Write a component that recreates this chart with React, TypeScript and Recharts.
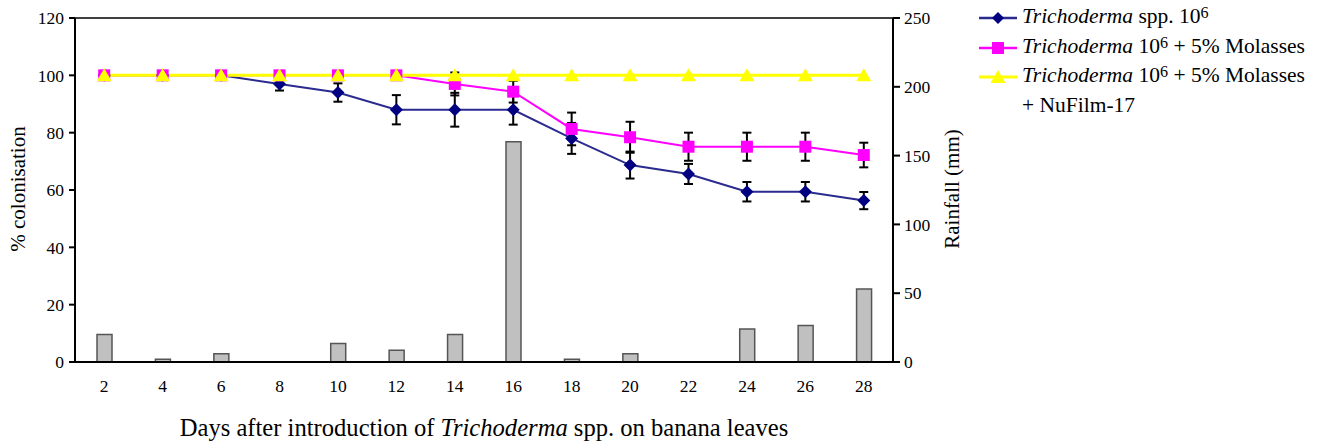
import React from 'react';
import { ComposedChart, Bar, Line, XAxis, YAxis, ErrorBar, ReferenceLine, Legend } from 'recharts';

const serif = "'Liberation Serif', 'Times New Roman', serif";

// days after introduction
const days = ['2', '4', '6', '8', '10', '12', '14', '16', '18', '20', '22', '24', '26', '28'];
// rainfall in mm (right axis)
const rainfall = [20, 2, 6, 0, 13.5, 8.5, 20, 160, 2, 6, 0, 24, 26.5, 53];
// % colonisation
const trichoderma = [100, 100, 100, 97, 94, 88, 88, 88, 78, 68.7, 65.6, 59.4, 59.4, 56.3];
const trichodermaErr = [0, 0, 0, 2.3, 3.2, 5.1, 5.9, 5.2, 5.4, 4.7, 3.5, 3.4, 3.4, 3];
const molasses = [100, 100, 100, 100, 100, 100, 97, 94.3, 81.3, 78.4, 75.1, 75.1, 75.1, 72.2];
const molassesErr = [0, 0, 0, 0, 0, 0, 4, 3.8, 5.7, 5.4, 4.9, 4.9, 4.9, 4.3];
const nufilm = [100, 100, 100, 100, 100, 100, 100, 100, 100, 100, 100, 100, 100, 100];

const colonisationTicks = [0, 20, 40, 60, 80, 100, 120];
const rainfallTicks = [0, 50, 100, 150, 200, 250];

const data = days.map((day, i) => ({
  day,
  rain: rainfall[i],
  t: trichoderma[i],
  tErr: trichodermaErr[i],
  m: molasses[i],
  mErr: molassesErr[i],
  n: nufilm[i],
}));

const BLUE_LINE = '#2a2a8f';
const NAVY = '#000080';
const PINK = '#ff00ff';
const YELLOW = '#ffff00';

const diamondPath = (cx: number, cy: number, r: number) =>
  `${cx},${cy - r} ${cx + r},${cy} ${cx},${cy + r} ${cx - r},${cy}`;
const trianglePath = (cx: number, cy: number) =>
  `${cx},${cy - 7} ${cx + 7.5},${cy + 6} ${cx - 7.5},${cy + 6}`;

const DiamondDot = (p: any) => {
  if (p.cx == null || p.cy == null) return <g key={`dd-${p.index}`} />;
  return <polygon key={`dd-${p.index}`} points={diamondPath(p.cx, p.cy, 6.5)} fill={NAVY} />;
};
const SquareDot = (p: any) => {
  if (p.cx == null || p.cy == null) return <g key={`sd-${p.index}`} />;
  return <rect key={`sd-${p.index}`} x={p.cx - 6} y={p.cy - 6} width={12} height={12} fill={PINK} />;
};
const TriangleDot = (p: any) => {
  if (p.cx == null || p.cy == null) return <g key={`td-${p.index}`} />;
  return <polygon key={`td-${p.index}`} points={trianglePath(p.cx, p.cy)} fill={YELLOW} />;
};

// rotated axis titles, centred on the plot height
const SideTitle = ({ x, text }: { x: number; text: string }) => {
  const cy = 189;
  return (
    <text x={x} y={cy} transform={`rotate(-90 ${x} ${cy})`} textAnchor="middle" dominantBaseline="central"
      style={{ fontFamily: serif, fontSize: 21 }} fill="#000">
      {text}
    </text>
  );
};
const LeftLabel = () => <SideTitle x={18} text="% colonisation" />;
const RightLabel = () => <SideTitle x={952} text="Rainfall (mm)" />;

const BottomLabel = (props: any) => {
  const vb = props.viewBox || { x: 75, y: 362, width: 818, height: 80 };
  const cx = vb.x + vb.width / 2;
  return (
    <text x={cx} y={427} textAnchor="middle" dominantBaseline="central" style={{ fontFamily: serif, fontSize: 24.6 }} fill="#000">
      <tspan>Days after introduction of </tspan>
      <tspan fontStyle="italic">Trichoderma</tspan>
      <tspan> spp. on banana leaves</tspan>
    </text>
  );
};

const Sup = ({ children }: any) => (
  <sup style={{ fontSize: '0.75em', verticalAlign: 'top', position: 'relative', top: -4 }}>{children}</sup>
);

const LegendIcon = ({ kind }: { kind: 'diamond' | 'square' | 'triangle' }) => {
  const color = kind === 'diamond' ? BLUE_LINE : kind === 'square' ? PINK : YELLOW;
  return (
    <svg width={40} height={20} style={{ display: 'inline-block', verticalAlign: 'middle', marginRight: 4 }}>
      <line x1={1} y1={10} x2={39} y2={10} stroke={color} strokeWidth={kind === 'triangle' ? 3 : 2.5} />
      {kind === 'diamond' && <polygon points={diamondPath(20, 10, 6)} fill={NAVY} />}
      {kind === 'square' && <rect x={14} y={4} width={12} height={12} fill={PINK} />}
      {kind === 'triangle' && <polygon points={trianglePath(20, 10)} fill={YELLOW} />}
    </svg>
  );
};

const LegendContent = () => (
  <div style={{ fontFamily: serif, fontSize: 21.5, color: '#000', lineHeight: '29.5px', whiteSpace: 'nowrap' }}>
    <div>
      <LegendIcon kind="diamond" />
      <i>Trichoderma</i> spp. 10<Sup>6</Sup>
    </div>
    <div>
      <LegendIcon kind="square" />
      <i>Trichoderma</i> 10<Sup>6</Sup> + 5% Molasses
    </div>
    <div>
      <LegendIcon kind="triangle" />
      <i>Trichoderma</i> 10<Sup>6</Sup> + 5% Molasses
    </div>
    <div style={{ paddingLeft: 44 }}>+ NuFilm-17</div>
  </div>
);

const axisStyle = { stroke: '#000', strokeWidth: 2 };
const tickStyle = { fill: '#000', fontSize: 17.5, fontFamily: serif };

export default function App() {
  return (
    <div style={{ width: 1321, height: 442, background: '#fff', fontFamily: serif }}>
      <style>{'body{margin:0;background:#fff}'}</style>
      <ComposedChart width={1321} height={442} data={data} margin={{ top: 18, right: 348, bottom: 0, left: 0 }}
        style={{ fontFamily: serif }}>
        <XAxis
          dataKey="day"
          height={80}
          axisLine={axisStyle}
          tickLine={false}
          tickSize={6}
          tickMargin={12}
          tick={tickStyle}
          interval={0}
          label={<BottomLabel />}
        />
        <YAxis
          yAxisId="left"
          orientation="left"
          width={75}
          domain={[0, 120]}
          ticks={colonisationTicks}
          allowDataOverflow
          axisLine={axisStyle}
          tickLine={axisStyle}
          tickSize={6}
          tickMargin={5}
          tick={tickStyle}
          label={<LeftLabel />}
        />
        <YAxis
          yAxisId="right"
          orientation="right"
          width={80}
          domain={[0, 250]}
          ticks={rainfallTicks}
          axisLine={axisStyle}
          tickLine={axisStyle}
          tickSize={7}
          tickMargin={4}
          tick={tickStyle}
          label={<RightLabel />}
        />
        <ReferenceLine yAxisId="left" y={120} stroke="#404040" strokeWidth={2} />
        <Bar yAxisId="right" dataKey="rain" barSize={15} fill="#c0c0c0" stroke="#555" strokeWidth={1.5} isAnimationActive={false} />
        <Line yAxisId="left" dataKey="t" stroke={BLUE_LINE} strokeWidth={2} dot={DiamondDot} activeDot={false} isAnimationActive={false}>
          <ErrorBar dataKey="tErr" direction="y" width={4.5} stroke="#000" strokeWidth={2} isAnimationActive={false} />
        </Line>
        <Line yAxisId="left" dataKey="m" stroke={PINK} strokeWidth={2} dot={SquareDot} activeDot={false} isAnimationActive={false}>
          <ErrorBar dataKey="mErr" direction="y" width={4.5} stroke="#000" strokeWidth={2} isAnimationActive={false} />
        </Line>
        <Line yAxisId="left" dataKey="n" stroke={YELLOW} strokeWidth={3} dot={TriangleDot} activeDot={false} isAnimationActive={false} />
        <Legend
          layout="vertical"
          align="center"
          verticalAlign="middle"
          content={<LegendContent />}
          wrapperStyle={{ left: 978, top: 2, width: 343 }}
        />
      </ComposedChart>
    </div>
  );
}
